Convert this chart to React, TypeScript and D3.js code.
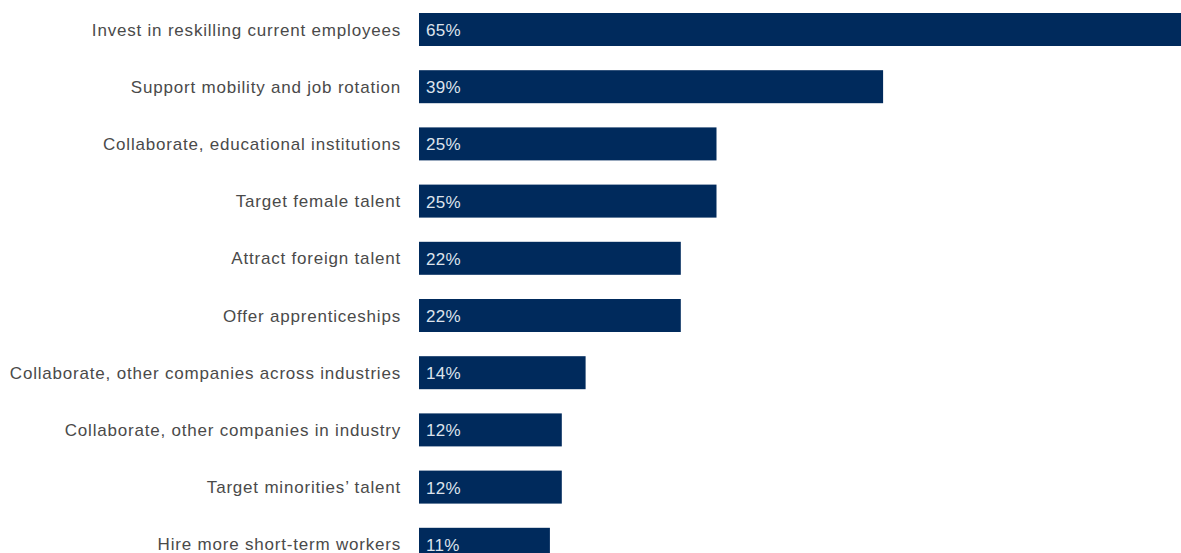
import React from "react";
import * as d3 from "d3";

const categories = [
  "Invest in reskilling current employees",
  "Support mobility and job rotation",
  "Collaborate, educational institutions",
  "Target female talent",
  "Attract foreign talent",
  "Offer apprenticeships",
  "Collaborate, other companies across industries",
  "Collaborate, other companies in industry",
  "Target minorities\u2019 talent",
  "Hire more short-term workers",
];
const values = [65, 39, 25, 25, 22, 22, 14, 12, 12, 11];

const W = 1181;
const H = 553;

export default function App() {
  const x = d3.scaleLinear().domain([0, 100]).range([419, 419 + 1190]);
  const step = 57.2;
  const y = d3
    .scaleBand<string>()
    .domain(categories)
    .range([13 - 12.1, 13 - 12.1 + step * categories.length])
    .paddingInner(24.2 / step)
    .paddingOuter(0.21);
  const bw = 33;
  const top = (i: number) => 13 + i * step;
  return (
    <svg
      width={W}
      height={H}
      style={{ position: "absolute", left: 0, top: 0, display: "block" }}
      fontFamily="'Liberation Sans', Arial, sans-serif"
    >
      <rect width={W} height={H} fill="#ffffff" />
      {categories.map((c, i) => {
        const yy = top(i);
        return (
          <g key={c}>
            <rect x={x(0)} y={yy} width={x(values[i]) - x(0)} height={bw} fill="#002a5c" />
            <text
              x={401}
              y={yy + bw / 2 + 0.5}
              textAnchor="end"
              dominantBaseline="central"
              fontSize={17}
              letterSpacing={0.8}
              fill="#4a4a4a"
            >
              {c}
            </text>
            <text
              x={x(0) + 7}
              y={yy + bw / 2 + 1}
              dominantBaseline="central"
              fontSize={17}
              letterSpacing={0.3}
              fill="#dde3ec"
            >
              {values[i]}%
            </text>
          </g>
        );
      })}
    </svg>
  );
}
